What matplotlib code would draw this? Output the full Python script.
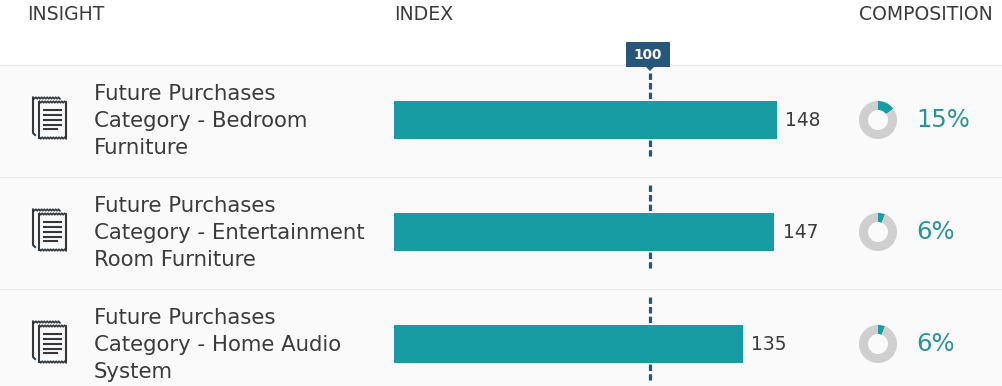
import matplotlib
matplotlib.use("Agg")
import matplotlib.pyplot as plt
from matplotlib.patches import Rectangle, Polygon
import numpy as np

W, H = 1002, 386

headers = ["INSIGHT", "INDEX", "COMPOSITION"]
insights = ["Future Purchases\nCategory - Bedroom\nFurniture",
            "Future Purchases\nCategory - Entertainment\nRoom Furniture",
            "Future Purchases\nCategory - Home Audio\nSystem"]
index_values = [148, 147, 135]
composition = [15, 6, 6]
reference = 100

teal = "#189ca3"
teal_text = "#2a9297"
navy = "#27567b"
grey = "#cfcfcf"
dark = "#3b3b3b"

row_centers = [120, 232, 344]
row_tops = [65, 177, 289]

plt.rcParams["font.family"] = "DejaVu Sans"
fig = plt.figure(figsize=(W / 100, H / 100), dpi=100)
fig.patch.set_facecolor("white")

# pixel canvas for backgrounds, header and icons
bg = fig.add_axes([0, 0, 1, 1])
bg.set_xlim(0, W)
bg.set_ylim(H, 0)
bg.axis("off")

for top in row_tops:
    bg.add_patch(Rectangle((0, top), W, 111, fc="#fafafa", ec="none"))
    bg.plot([0, W], [top - 0.5, top - 0.5], color="#ececec", lw=1)

for label, x in zip(headers, [27, 394, 859]):
    bg.text(x, 15, label, fontsize=13.6, color=dark, va="center", ha="left")


def zigzag(x0, x1, y, n):
    xs = np.linspace(x0, x1, n)
    ys = [y + (0.8 if i % 2 else -0.8) for i in range(n)]
    return xs, ys


def icon(cy):
    c = "#33383d"
    # back page
    xs, ys = zigzag(33, 60, cy - 22, 20)
    bg.plot(xs, ys, color=c, lw=1.2)
    bg.plot([33, 33, 35], [cy - 22, cy + 13, cy + 15], color=c, lw=1.5)
    # front page
    bg.add_patch(Rectangle((39.5, cy - 18), 26, 35, fc="#fafafa", ec="none", zorder=2))
    bg.plot([39.5, 39.5], [cy - 18, cy + 18], color=c, lw=1.5, zorder=3)
    bg.plot([66, 66], [cy - 18, cy + 18], color=c, lw=1.5, zorder=3)
    xs, ys = zigzag(39.5, 66, cy - 18, 20)
    bg.plot(xs, ys, color=c, lw=1.2, zorder=3)
    xs, ys = zigzag(39.5, 66, cy + 18, 20)
    bg.plot(xs, ys, color=c, lw=1.2, zorder=3)
    for dy, x1 in zip([-10, -5, 0, 5, 9], [61, 61, 61, 61, 57]):
        bg.plot([44, x1], [cy + dy, cy + dy], color=c, lw=1.5, zorder=3)


for cy, txt in zip(row_centers, insights):
    icon(cy)
    bg.text(94, cy + 1, txt, fontsize=15.3, color=dark, va="center", ha="left", linespacing=1.41)

# index bars, x axis in index units
left_px, px_per_unit, ref_px = 394, 2.646, 650
ax = fig.add_axes([left_px / W, 0, 1 - left_px / W, 1])
ax.patch.set_alpha(0)
ax.set_xlim(reference - (ref_px - left_px) / px_per_unit,
            reference + (W - ref_px) / px_per_unit)
ax.set_ylim(H, 0)
ax.axis("off")

for cy in row_centers:
    ax.plot([reference, reference], [cy - 47, cy + 39], color=navy, lw=2.3,
            dashes=(2, 1), zorder=1)
ax.barh(row_centers, index_values, height=38, color=teal, zorder=2)
for cy, v in zip(row_centers, index_values):
    ax.annotate(str(v), (v, cy), xytext=(6, 0), textcoords="offset points", fontsize=13.4,
                color=dark, va="center", ha="left", clip_on=False)

# tooltip flag over the reference line
bg.add_patch(Rectangle((626, 42), 44, 25, fc=navy, ec="none", zorder=5))
bg.add_patch(Polygon([[646, 67], [654, 67], [650, 71]], fc=navy, ec="none", zorder=5))
bg.text(648, 55, str(reference), color="white", fontsize=9.8, fontweight="bold",
        ha="center", va="center", zorder=6)

# composition donuts
for cy, pct in zip(row_centers, composition):
    d = fig.add_axes([855 / W, 1 - (cy + 23) / H, 46 / W, 46 / H])
    d.pie([pct, 100 - pct], colors=[teal, grey], startangle=90, counterclock=False,
          radius=19 / 23, wedgeprops={"width": 9 / 23})
    d.set_xlim(-1, 1)
    d.set_ylim(-1, 1)
    bg.text(916, cy, f"{pct}%", fontsize=17.5, color=teal_text, va="center", ha="left")

fig.savefig("out.png", dpi=100)
